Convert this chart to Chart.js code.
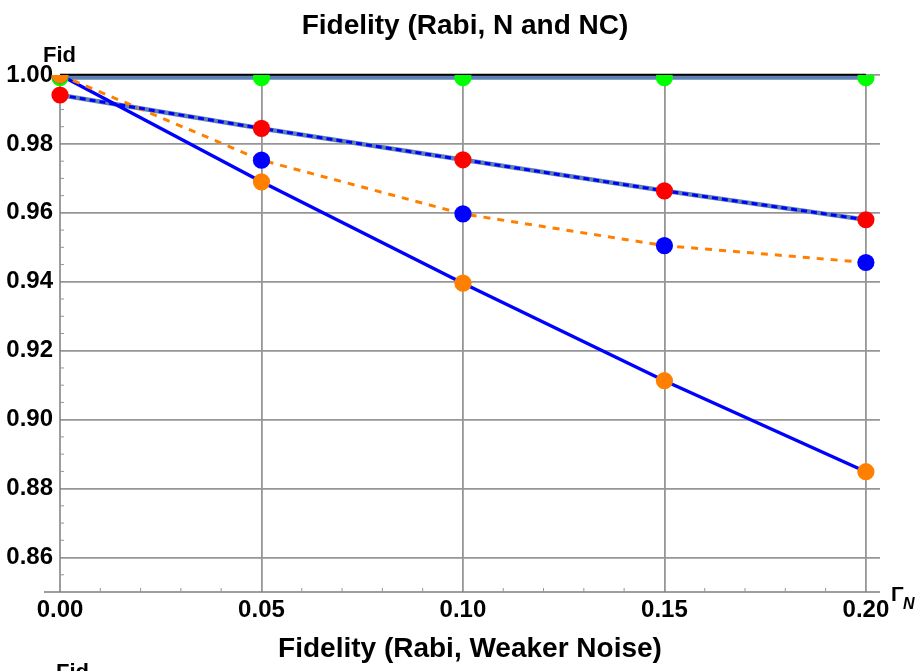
<!DOCTYPE html>
<html>
<head>
<meta charset="utf-8">
<script src="https://cdn.jsdelivr.net/npm/chart.js@4.4.1/dist/chart.umd.min.js"></script>
<style>
  html, body { margin: 0; padding: 0; background: #fff; }
  #wrap { width: 924px; height: 671px; position: relative; }
</style>
</head>
<body>
<div id="wrap"><canvas id="fidChart" width="924" height="671"></canvas></div>
<script>
// Values
const gammaN = [0, 0.05, 0.10, 0.15, 0.20];
const idealFid = [1, 1, 1, 1, 1];
const greenFid = [0.9992, 0.9992, 0.9992, 0.9992, 0.9992];
const redFid = [0.9942, 0.9845, 0.9754, 0.9664, 0.9580];
const blueFid = [1.0, 0.9753, 0.9597, 0.9505, 0.9456];
const orangeFid = [1.0, 0.9690, 0.9396, 0.9113, 0.8849];

const xTicks = [0, 0.05, 0.10, 0.15, 0.20];
const yTicks = [0.86, 0.88, 0.90, 0.92, 0.94, 0.96, 0.98, 1.00];

const FONT = "'Liberation Sans', Arial, sans-serif";
const gridColor = 'rgb(150,150,150)';
const steelBlue = 'rgb(94,129,181)';
const orange = 'rgb(255,128,0)';

// turn a list of values into {x, y} points
function toPts(vals) {
    return gammaN.map((x, i) => ({ x: x, y: vals[i] }));
}

const clipTop = { left: false, top: 0, right: false, bottom: false };

function pointSet(vals, color) {
    return {
        data: toPts(vals),
        showLine: false,
        pointRadius: 8.6,
        pointBorderWidth: 0,
        pointBackgroundColor: color,
        borderColor: color,
        clip: clipTop
    };
}

function lineSet(vals, color, width, dash) {
    return {
        data: toPts(vals),
        borderColor: color,
        borderWidth: width,
        borderDash: dash || [],
        pointRadius: 0,
        tension: 0,
        fill: false,
        clip: clipTop
    };
}

// first dataset ends up on top
const datasets = [
    pointSet(orangeFid, orange),
    pointSet(redFid, 'rgb(255,0,0)'),
    pointSet(blueFid, 'rgb(0,0,255)'),
    pointSet(greenFid, 'rgb(0,255,0)'),
    lineSet(redFid, 'rgb(0,0,255)', 3, [6, 4]),
    lineSet(blueFid, orange, 3, [7, 7]),
    lineSet(orangeFid, 'rgb(0,0,255)', 3.4),
    lineSet(redFid, steelBlue, 4.5),
    lineSet(greenFid, steelBlue, 4),
    Object.assign(lineSet(idealFid, '#000', 2.5), { clip: false })
];

// axis lines, minor ticks and the extra labels
const decorations = {
    id: 'decorations',
    beforeDatasetsDraw(chart) {
        const ctx = chart.ctx;
        const area = chart.chartArea;
        const xs = chart.scales.x;
        const ys = chart.scales.y;
        ctx.save();
        ctx.strokeStyle = 'rgb(125,125,125)';
        ctx.lineWidth = 1.5;
        // horizontal axis, a bit longer on the left like Mathematica
        ctx.beginPath();
        ctx.moveTo(area.left - 16, area.bottom);
        ctx.lineTo(area.right, area.bottom);
        ctx.stroke();
        // vertical axis at x = 0
        const x0 = xs.getPixelForValue(0);
        ctx.beginPath();
        ctx.moveTo(x0, area.bottom);
        ctx.lineTo(x0, area.top);
        ctx.stroke();
        // minor ticks
        ctx.lineWidth = 1;
        ctx.strokeStyle = 'rgb(150,150,150)';
        for (let i = 1; i <= 20; i++) {
            if (i % 5 === 0) continue;
            const px = xs.getPixelForValue(i * 0.01);
            ctx.beginPath();
            ctx.moveTo(px, area.bottom);
            ctx.lineTo(px, area.bottom - 4);
            ctx.stroke();
        }
        for (let i = 1; i < 30; i++) {
            if (i % 4 === 2) continue;
            const py = ys.getPixelForValue(0.85 + i * 0.005);
            ctx.beginPath();
            ctx.moveTo(x0, py);
            ctx.lineTo(x0 + 4, py);
            ctx.stroke();
        }
        ctx.restore();
    },
    afterDraw(chart) {
        const ctx = chart.ctx;
        ctx.save();
        ctx.fillStyle = '#000';
        ctx.textBaseline = 'alphabetic';
        ctx.textAlign = 'center';
        ctx.font = 'bold 28px ' + FONT;
        ctx.fillText('Fidelity (Rabi, N and NC)', 465, 34);
        ctx.fillText('Fidelity (Rabi, Weaker Noise)', 470, 657);
        ctx.textAlign = 'left';
        ctx.font = 'bold 22px ' + FONT;
        ctx.fillText('Fid', 43, 62);
        ctx.fillText('Fid', 56, 679);
        // axis label Gamma_N
        ctx.font = 'bold 21px ' + FONT;
        ctx.fillText('Γ', 891, 601);
        ctx.font = 'bold italic 16px ' + FONT;
        ctx.fillText('N', 903, 609);
        ctx.restore();
    }
};

new Chart(document.getElementById('fidChart'), {
    type: 'line',
    data: { datasets: datasets },
    options: {
        responsive: false,
        animation: false,
        layout: { padding: { top: 75, right: 44, left: 0, bottom: 0 } },
        plugins: {
            legend: { display: false },
            tooltip: { enabled: false }
        },
        scales: {
            x: {
                type: 'linear',
                min: 0,
                max: 0.2035,
                afterBuildTicks: s => { s.ticks = xTicks.map(v => ({ value: v })); },
                afterFit: s => { s.height = 79; },
                border: { display: false },
                grid: {
                    drawTicks: false,
                    lineWidth: 1.8,
                    color: c => (c.tick && c.tick.value === 0) ? 'rgba(0,0,0,0)' : gridColor
                },
                ticks: {
                    autoSkip: false,
                    maxRotation: 0,
                    padding: 4,
                    color: '#000',
                    font: { family: FONT, size: 24, weight: 'bold' },
                    callback: v => Number(v).toFixed(2)
                }
            },
            y: {
                type: 'linear',
                min: 0.85,
                max: 1.0,
                afterBuildTicks: s => { s.ticks = yTicks.map(v => ({ value: v })); },
                afterFit: s => { s.width = 60; },
                border: { display: false },
                grid: {
                    drawTicks: false,
                    lineWidth: 1.8,
                    color: gridColor
                },
                ticks: {
                    padding: 7,
                    color: '#000',
                    font: { family: FONT, size: 24, weight: 'bold' },
                    callback: v => Number(v).toFixed(2)
                }
            }
        }
    },
    plugins: [decorations]
});
</script>
</body>
</html>
